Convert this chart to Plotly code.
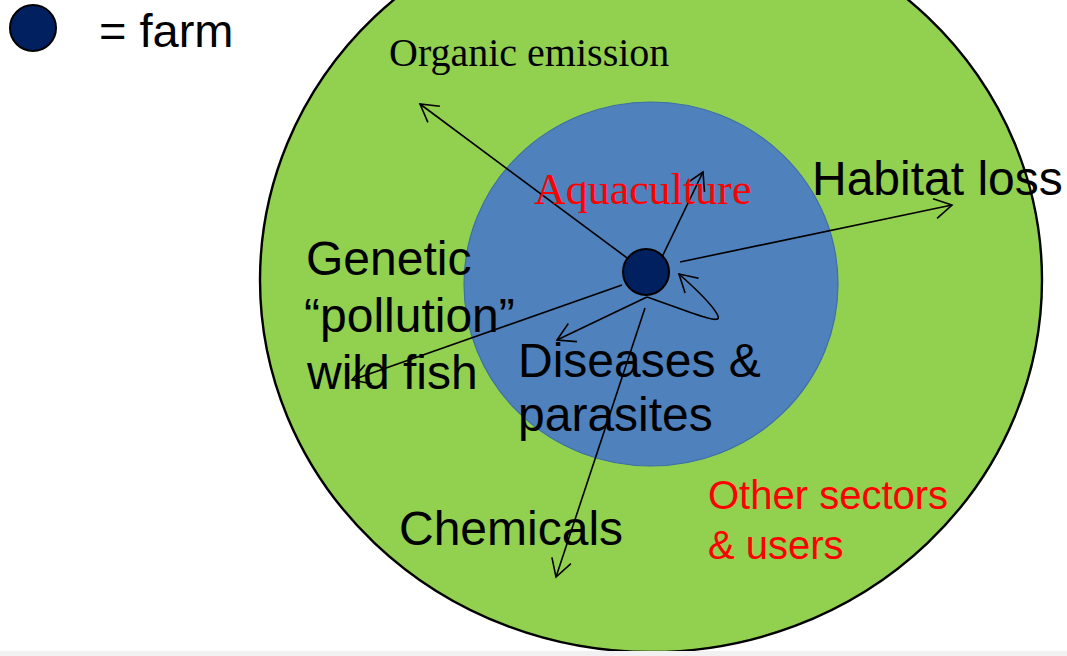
import math
import plotly.graph_objects as go

W, H = 1067, 656

# ---- diagram data (pixel coordinates of the drawing) ----
outer_ring = dict(cx=651, cy=280, rx=391, ry=372)
inner_ring = dict(cx=651, cy=284, rx=187, ry=182)
farm_dot = dict(cx=646, cy=272, r=23)
legend_dot = dict(cx=33, cy=28, r=23)

arrow_names = ["Organic emission", "Aquaculture", "Habitat loss",
               "Genetic pollution", "Diseases", "Chemicals"]
arrow_start_x = [646, 662, 680, 622, 647, 645]
arrow_start_y = [272, 257, 262, 285, 297, 308]
arrow_end_x = [420, 703, 952, 352, 557, 556]
arrow_end_y = [104, 172, 205, 380, 340, 577]

black_labels = ["Genetic", "\u201cpollution\u201d", "wild fish",
                "Diseases &", "parasites", "Habitat loss", "Chemicals"]
black_label_x = [304, 302, 304, 516, 516, 810, 397]
black_label_y = [258, 315, 372, 360, 414, 178, 528]

red_labels = ["Other sectors", "& users"]
red_label_x = [706, 706]
red_label_y = [495, 545]

GREEN = "#92D050"
BLUE = "#4F81BD"
NAVY = "#002060"

fig = go.Figure()
shapes = []


def ellipse(cx, cy, rx, ry, fill, line_color, lw):
    return dict(type="circle", xref="x", yref="y", x0=cx - rx, x1=cx + rx,
                y0=cy - ry, y1=cy + ry, fillcolor=fill,
                line=dict(color=line_color, width=lw), layer="above")


def head(tx, ty, fx, fy, length=20, ang=30):
    a = math.atan2(fy - ty, fx - tx)
    pts = []
    for s in (-1, 1):
        b = a + s * math.radians(ang)
        pts.append((tx + length * math.cos(b), ty + length * math.sin(b)))
    return dict(type="path", xref="x", yref="y",
                path=f"M {pts[0][0]:.1f},{pts[0][1]:.1f} L {tx},{ty} L {pts[1][0]:.1f},{pts[1][1]:.1f}",
                line=dict(color="black", width=1.6), layer="above")


shapes.append(ellipse(outer_ring["cx"], outer_ring["cy"], outer_ring["rx"], outer_ring["ry"], GREEN, "black", 2.4))
shapes.append(ellipse(inner_ring["cx"], inner_ring["cy"], inner_ring["rx"], inner_ring["ry"], BLUE, "#3E6FA6", 1.2))

for sx, sy, ex, ey in zip(arrow_start_x, arrow_start_y, arrow_end_x, arrow_end_y):
    shapes.append(dict(type="line", xref="x", yref="y", x0=sx, y0=sy, x1=ex, y1=ey,
                       line=dict(color="black", width=1.6), layer="above"))
    shapes.append(head(ex, ey, sx, sy))

# loop arrow (diseases & parasites spreading back to farm)
shapes.append(dict(type="path", xref="x", yref="y",
                   path="M 647,297 C 690,312 722,326 718,316 C 714,306 697,290 679,274",
                   line=dict(color="black", width=1.6), layer="above"))
shapes.append(head(679, 274, 700, 293))

shapes.append(ellipse(farm_dot["cx"], farm_dot["cy"], farm_dot["r"], farm_dot["r"], NAVY, "black", 2))
shapes.append(ellipse(legend_dot["cx"], legend_dot["cy"], legend_dot["r"], legend_dot["r"], NAVY, "black", 2))

# bottom grey strip
shapes.append(dict(type="rect", xref="x", yref="y", x0=0, x1=W, y0=651, y1=H,
                   fillcolor="#f1f1f1", line=dict(width=0), layer="above"))

annotations = []
SANS = "Liberation Sans, Arial, sans-serif"
SERIF = "Liberation Serif, Times New Roman, serif"

annotations.append(dict(x=97, y=30, text="= farm", showarrow=False, xanchor="left", yanchor="middle",
                        font=dict(family=SANS, size=47, color="black")))
annotations.append(dict(x=387, y=52, text="Organic emission", showarrow=False, xanchor="left", yanchor="middle",
                        font=dict(family=SERIF, size=40, color="black")))
annotations.append(dict(x=532, y=189, text="Aquaculture", showarrow=False, xanchor="left", yanchor="middle",
                        font=dict(family=SERIF, size=44, color="red")))
for t, x, y in zip(black_labels, black_label_x, black_label_y):
    annotations.append(dict(x=x, y=y, text=t, showarrow=False, xanchor="left", yanchor="middle",
                            font=dict(family=SANS, size=48, color="black")))
for t, x, y in zip(red_labels, red_label_x, red_label_y):
    annotations.append(dict(x=x, y=y, text=t, showarrow=False, xanchor="left", yanchor="middle",
                            font=dict(family=SANS, size=40, color="red")))

fig.update_layout(
    width=W, height=H, margin=dict(l=0, r=0, t=0, b=0),
    paper_bgcolor="white", plot_bgcolor="white",
    xaxis=dict(range=[0, W], visible=False, fixedrange=True),
    yaxis=dict(range=[H, 0], visible=False, fixedrange=True),
    shapes=shapes, annotations=annotations, showlegend=False,
)

fig.write_html("out.html",
               config=dict(displayModeBar=False),
               post_script="document.body.style.margin='0';document.body.style.overflow='hidden';")
